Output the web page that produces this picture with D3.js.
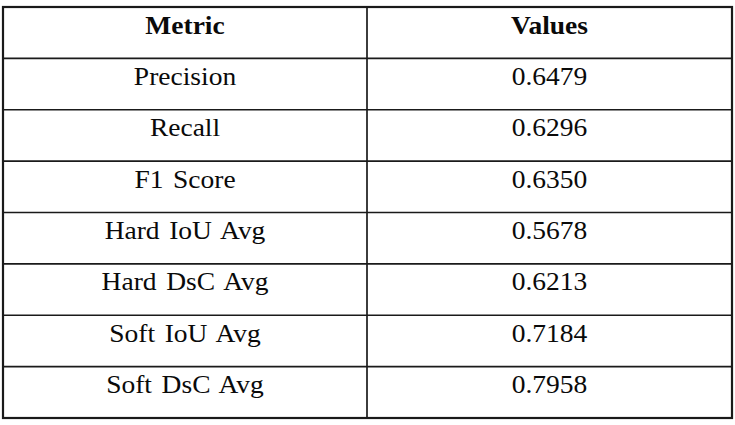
<!DOCTYPE html>
<html>
<head>
<meta charset="utf-8">
<script src="https://cdn.jsdelivr.net/npm/d3@7"></script>
<style>
  body { margin: 0; background: #fff; }
  svg text { font-family: "Liberation Serif", "Times New Roman", serif; fill: #0a0a0a; word-spacing: 2.5px; }
</style>
</head>
<body>
<svg id="table" width="735" height="425"></svg>
<script>
// table content
const headers = ['Metric', 'Values'];
const metrics = ['Precision', 'Recall', 'F1 Score', 'Hard IoU Avg', 'Hard DsC Avg', 'Soft IoU Avg', 'Soft DsC Avg'];
const values = ['0.6479', '0.6296', '0.6350', '0.5678', '0.6213', '0.7184', '0.7958'];

const box = {left: 3, right: 732, top: 7, bottom: 418, split: 367};

const svg = d3.select('#table');

const rows = ['header'].concat(metrics);
const y = d3.scaleBand().domain(rows).range([box.top, box.bottom]);
const x = d3.scaleOrdinal().domain(headers)
            .range([(box.left + box.split) / 2, (box.split + box.right) / 2]);

const fontSize = 25;
const baseline = 26.5;
const stretch = 1.1;   // source image is a bit wider than plain Times

const place = (cx, cy) => 'translate(' + cx + ',' + cy + ') scale(' + stretch + ',1)';

// header
svg.selectAll('text.head')
   .data(headers)
   .enter().append('text')
   .attr('class', 'head')
   .attr('transform', d => place(x(d), y('header') + baseline))
   .attr('text-anchor', 'middle')
   .attr('font-size', fontSize)
   .attr('font-weight', 'bold')
   .text(d => d);

// body rows
const table = metrics.map((m, i) => ({metric: m, value: values[i]}));

svg.selectAll('text.metric')
   .data(table)
   .enter().append('text')
   .attr('class', 'metric')
   .attr('transform', d => place(x('Metric'), y(d.metric) + baseline))
   .attr('text-anchor', 'middle')
   .attr('font-size', fontSize)
   .text(d => d.metric);

svg.selectAll('text.value')
   .data(table)
   .enter().append('text')
   .attr('class', 'value')
   .attr('transform', d => place(x('Values'), y(d.metric) + baseline))
   .attr('text-anchor', 'middle')
   .attr('font-size', fontSize)
   .text(d => d.value);

// grid lines
svg.selectAll('line.row')
   .data(rows.slice(1))
   .enter().append('line')
   .attr('class', 'row')
   .attr('x1', box.left).attr('x2', box.right)
   .attr('y1', d => y(d)).attr('y2', d => y(d))
   .attr('stroke', '#1a1a1a')
   .attr('stroke-width', 1.7);

svg.append('line')
   .attr('x1', box.split).attr('x2', box.split)
   .attr('y1', box.top).attr('y2', box.bottom)
   .attr('stroke', '#1a1a1a')
   .attr('stroke-width', 1.7);

svg.append('rect')
   .attr('x', box.left).attr('y', box.top)
   .attr('width', box.right - box.left)
   .attr('height', box.bottom - box.top)
   .attr('fill', 'none')
   .attr('stroke', '#1a1a1a')
   .attr('stroke-width', 2.2);
</script>
</body>
</html>
